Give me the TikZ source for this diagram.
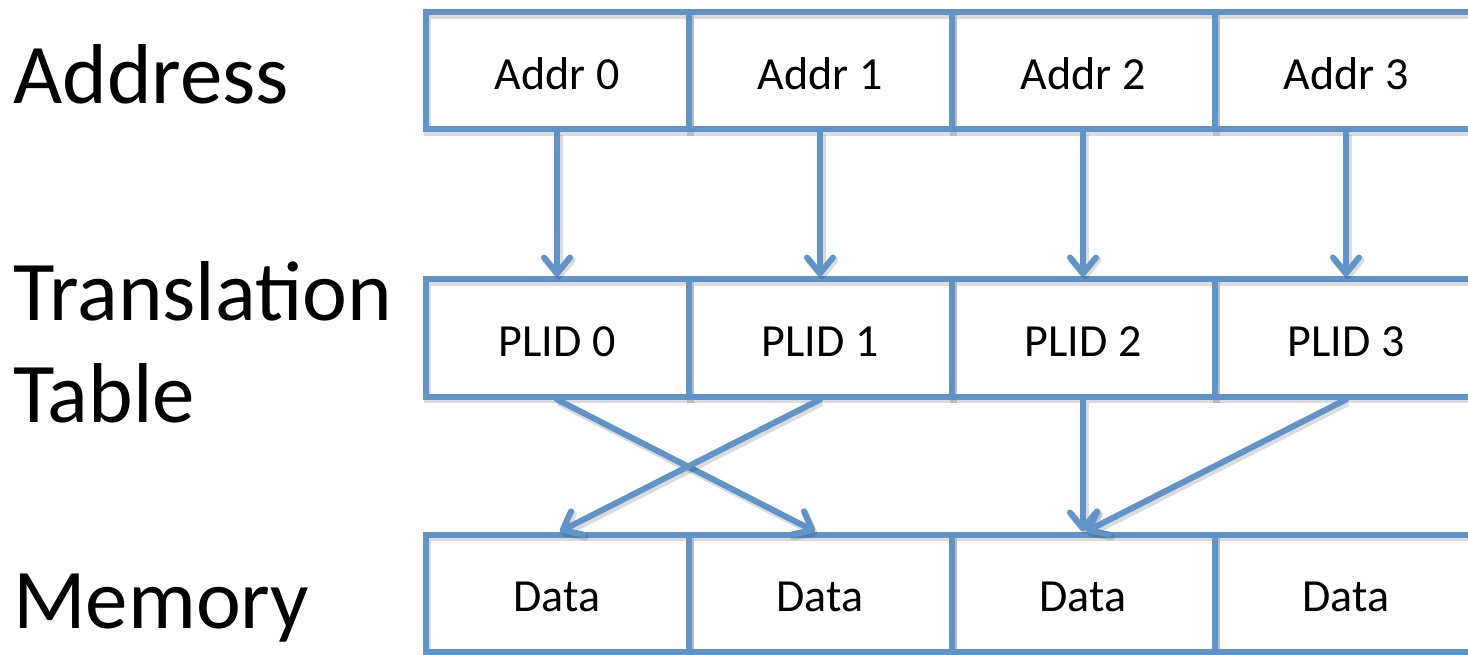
\documentclass[tikz,border=0pt]{standalone}
\usepackage{fontspec}
\setmainfont{Carlito}
\usetikzlibrary{arrows.meta,calc}
\definecolor{cellblue}{RGB}{96,148,201}
\begin{document}
\begin{tikzpicture}[x=1pt,y=-1pt,
  softshadow/.style={preaction={draw=black, opacity=0.14, line width=7pt,
      transform canvas={shift={(2,3)}}}},
  cell/.style={draw=cellblue, line width=6pt, minimum width=263pt,
      minimum height=117pt, inner sep=0pt, softshadow,
      font=\fontsize{46}{50}\selectfont, text height=40pt, text depth=3pt},
  rowlabel/.style={inner sep=0pt, anchor=base west, align=left,
      font=\fontsize{85}{102}\selectfont},
  link/.style={draw=cellblue, line width=6pt, line cap=round, softshadow,
      -{Straight Barb[length=16pt,width=26pt,round]}}
]
\useasboundingbox (0,0) rectangle (1468,655);

% row captions
\node[rowlabel] (lblA) at (13,104) {Address};
\node[rowlabel] (lblT) at (13,422) {Translation\\Table};
\node[rowlabel] (lblM) at (13,628) {Memory};

% address row
\node[cell] (a0) at (557,71) {Addr 0};
\node[cell] (a1) at (820,71) {Addr 1};
\node[cell] (a2) at (1083,71) {Addr 2};
\node[cell] (a3) at (1346,71) {Addr 3};

% translation table row
\node[cell] (p0) at (557,338) {PLID 0};
\node[cell] (p1) at (820,338) {PLID 1};
\node[cell] (p2) at (1083,338) {PLID 2};
\node[cell] (p3) at (1346,338) {PLID 3};

% memory row
\node[cell] (d0) at (557,593) {Data};
\node[cell] (d1) at (820,593) {Data};
\node[cell] (d2) at (1083,593) {Data};
\node[cell] (d3) at (1346,593) {Data};

% address -> translation entry
\foreach \i in {0,...,3}
  \draw[link] (a\i.south) -- (p\i.north);

% translation entry -> physical location
\draw[link] (p0.south) -- ($(d1.north)+(-5,0)$);
\draw[link] (p1.south) -- ($(d0.north)+(3,0)$);
\draw[link] (p2.south) -- (d2.north);
\draw[link] (p3.south) -- ($(d2.north)+(3,0)$);
\end{tikzpicture}
\end{document}
